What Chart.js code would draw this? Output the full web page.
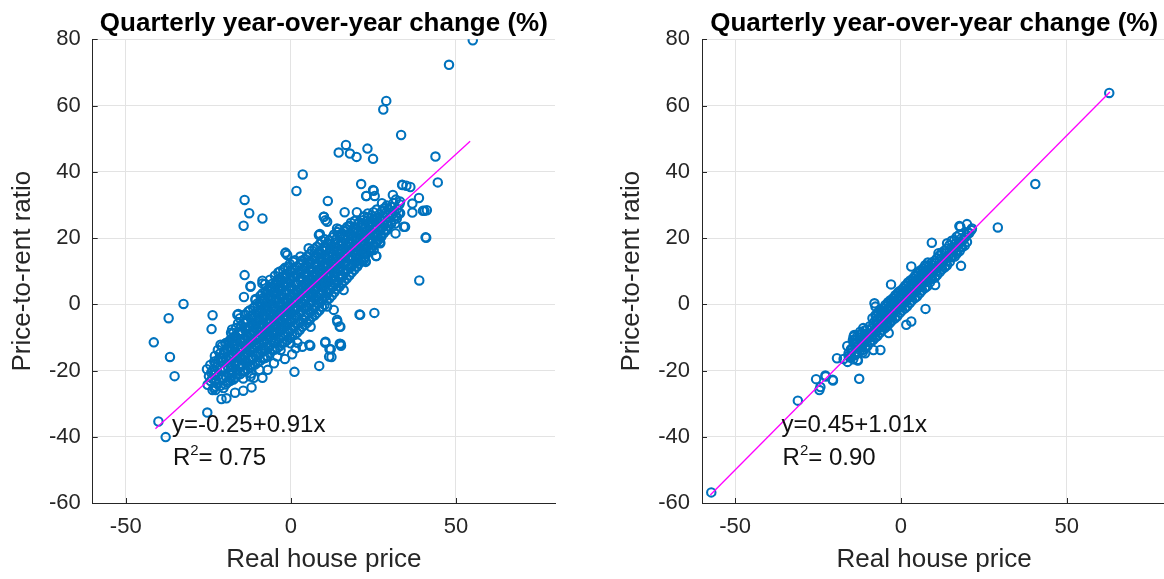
<!DOCTYPE html>
<html>
<head>
<meta charset="utf-8">
<title>Quarterly year-over-year change</title>
<script src="https://cdn.jsdelivr.net/npm/chart.js@4.4.1/dist/chart.umd.min.js"></script>
<style>
  html, body { margin: 0; padding: 0; background: #fff; overflow: hidden; }
  #wrap { position: relative; width: 1164px; height: 579px; overflow: hidden; }
  .panel { position: absolute; top: 0; height: 579px; }
  #leftPanel { left: 0; width: 582px; }
  #rightPanel { left: 582px; width: 600px; }
</style>
</head>
<body>
<div id="wrap">
  <div class="panel" id="leftPanel"><canvas id="scatterLeft"></canvas></div>
  <div class="panel" id="rightPanel"><canvas id="scatterRight"></canvas></div>
</div>
<script>
// tick values and labels
const xTicks = [-50, 0, 50];
const yTicks = [-60, -40, -20, 0, 20, 40, 60, 80];
const titleText = "Quarterly year-over-year change (%)";
const xTitle = "Real house price";
const yTitle = "Price-to-rent ratio";

// left panel: all quarters (real house price %, price-to-rent %)
const leftOutliers = [
  [55.1,79.7],[47.9,72.3],[28.9,61.4],[28.0,58.8],[33.4,51.1],[16.7,48.1],[14.5,45.8],[17.9,45.5],
  [19.9,44.5],[23.2,47.0],[24.9,43.9],[43.8,44.6],[44.5,36.8],[3.6,39.2],[1.7,34.2],[-14.0,31.5],
  [-12.6,27.5],[-8.6,25.9],[-14.3,23.7],[11.2,31.2],[21.3,36.3],[22.8,32.7],[25.1,34.3],[16.3,27.8],
  [20.0,27.8],[30.9,33.0],[33.7,36.1],[35.0,35.8],[36.2,35.4],[38.8,32.1],[36.8,30.4],[36.8,27.7],
  [40.5,28.2],[41.2,28.4],[34.2,23.4],[31.7,21.4],[41.0,20.1],[28.7,22.6],[32.1,25.9],[25.8,14.6],
  [27.0,18.8],[22.6,13.1],[38.9,7.2],[-14.0,8.8],[-8.6,7.1],[-1.6,15.6],[10.0,26.4],[10.5,25.4],
  [8.8,21.2],[-12.2,5.5],[-8.6,6.3],[-14.2,2.2],[-32.5,0.1],[-37.0,-4.2],[-41.5,-11.5],[-36.6,-15.9],
  [-35.2,-21.7],[-23.7,-3.3],[-24.0,-7.5],[-40.1,-35.4],[-37.9,-40.1],[-25.3,-32.7],[-21.0,-28.6],
  [-19.5,-28.4],[-16.9,-26.7],[-14.4,-26.1],[-11.9,-25.1],[-23.7,-25.9],[-22.8,-25.9],[-22.7,-21.1],
  [-20.8,-22.3],[-18.2,-22.3],[-14.4,-22.4],[-12.2,-21.8],[-11.2,-22.2],[-8.6,-22.2],[1.1,-20.4],
  [8.6,-18.6],[10.5,-11.3],[11.7,-13.5],[12.3,-15.9],[14.8,-11.9],[15.2,-12.5],[14.1,-5.3],[14.8,-6.7],
  [20.8,-3.1],[25.3,-2.6],[25.9,14.6],[22.7,12.8],[22.3,15.9],[5.9,-12.5],[3.5,-12.8],[1.5,-13.3],
  [0.4,-15.1],[-1.8,-16.5],[-4.1,-15.8],[-5.1,-17.8],[-21.0,-16.1],[-15.9,-2.9],[-18.9,-11.6],
  [-7.0,-19.8],[-9.5,-19.8],[-12.0,-20.9],[24.9,34.5],[22.9,32.7],[25.4,32.7],[33.8,36.0],[40.0,28.2],
  [40.8,20.2],[34.6,23.4],[21.0,-3.2],[15.1,-12.0],[12.1,-13.6],[11.6,-15.8],[10.4,-11.6],[5.6,-12.2],
  [2.0,-11.6],[-16.2,-3.2],[-17.4,-8.7],[-19.7,-11.8],[-21.0,-16.3],[-23.3,-21.3],[-12.2,5.3]
];
const leftEdge = [
  [-10.7,1.3],[-7.1,3.3],[-4.1,7.3],[-1.6,15.4],[-1.1,14.9],[2.9,14.4],[5.4,16.9],[8.5,20.9],
  [10.0,26.4],[11.0,24.9],[14.0,22.9],[17.1,23.4],[19.0,21.9],[22.1,26.4],[25.1,25.4],[27.6,30.5],
  [30.6,29.4],[33.1,31.0],[-18.2,-18.8],[-12.2,-18.3],[-7.1,-15.8],[-3.1,-13.8],[-0.1,-11.8],
  [6.0,-6.8],[11.0,-0.7],[13.0,-1.7],[14.0,-4.7],[15.0,-6.8],[16.0,4.3],[20.1,11.4],[22.1,13.4],
  [25.1,16.4],[27.1,18.4],[29.1,22.4],[31.6,24.4],[33.1,27.5]
];
const leftCore = [
  [-25.2,-24.3],[-24.8,-21.7],[-25.4,-19.6],
  [-23.3,-25.2],[-23.8,-22.4],[-23.6,-19.8],[-23.2,-17.3],
  [-22.2,-24.1],[-21.8,-21.3],[-22.3,-18.8],[-21.9,-16.7],[-22.1,-13.8],
  [-20.4,-25.3],[-20.7,-22.6],[-20.2,-19.8],[-20.6,-17.4],[-20.3,-14.8],[-20.8,-12.6],
  [-19.2,-23.6],[-18.8,-20.9],[-19.1,-18.7],[-18.9,-15.8],[-19.3,-13.3],[-18.7,-11.2],
  [-17.4,-22.7],[-17.7,-19.8],[-17.3,-17.6],[-17.6,-14.9],[-17.5,-12.3],[-17.2,-10.1],[-17.8,-7.6],
  [-16.1,-21.2],[-15.8,-18.4],[-16.2,-16.1],[-15.9,-13.3],[-16.3,-11.2],[-15.7,-8.4],[-16.0,-5.8],
  [-14.4,-20.3],[-14.7,-18.2],[-14.3,-15.4],[-14.6,-13.1],[-14.4,-10.3],[-14.8,-8.1],[-14.2,-5.6],
  [-13.1,-19.6],[-12.8,-16.8],[-13.2,-14.6],[-12.9,-11.8],[-13.0,-9.6],[-12.7,-6.8],[-13.3,-4.6],[-12.9,-2.2],
  [-11.6,-18.4],[-11.3,-16.2],[-11.7,-13.4],[-11.4,-11.1],[-11.5,-8.3],[-11.2,-6.1],[-11.8,-3.4],[-11.4,-1.2],
  [-10.1,-17.6],[-9.8,-14.8],[-10.2,-12.6],[-9.9,-9.8],[-10.3,-7.6],[-9.7,-4.9],[-10.0,-2.7],[-10.2,0.2],
  [-8.4,-16.4],[-8.7,-14.2],[-8.3,-11.4],[-8.6,-9.2],[-8.5,-6.3],[-8.2,-4.1],[-8.8,-1.6],[-8.4,1.2],[-8.6,3.3],
  [-7.1,-15.6],[-6.8,-12.8],[-7.2,-10.6],[-6.9,-7.8],[-7.0,-5.6],[-6.7,-2.8],[-7.3,-0.6],[-6.9,2.2],[-7.1,4.3],
  [-5.6,-13.8],[-5.3,-11.6],[-5.7,-8.8],[-5.4,-6.6],[-5.5,-3.8],[-5.2,-1.6],[-5.8,1.2],[-5.4,3.4],[-5.6,6.2],
  [-4.1,-13.2],[-3.8,-10.4],[-4.2,-8.2],[-3.9,-5.4],[-4.0,-3.2],[-3.7,-0.4],[-4.3,1.8],[-3.9,4.6],[-4.1,6.8],[-3.8,9.6],
  [-2.6,-11.8],[-2.3,-9.6],[-2.7,-6.8],[-2.4,-4.6],[-2.5,-1.8],[-2.2,0.4],[-2.8,3.2],[-2.4,5.4],[-2.6,8.2],[-2.3,10.4],
  [-1.1,-10.8],[-0.8,-8.6],[-1.2,-5.8],[-0.9,-3.6],[-1.0,-0.8],[-0.7,1.4],[-1.3,4.2],[-0.9,6.4],[-1.1,9.2],[-0.8,11.3],
  [0.4,-9.6],[0.7,-6.8],[0.3,-4.6],[0.6,-1.8],[0.5,0.4],[0.8,3.2],[0.2,5.4],[0.6,8.2],[0.4,10.4],[0.7,12.8],
  [1.9,-8.6],[2.2,-5.8],[1.8,-3.6],[2.1,-0.8],[2.0,1.4],[2.3,4.2],[1.7,6.4],[2.1,9.2],[1.9,11.4],
  [3.4,-6.8],[3.7,-4.6],[3.3,-1.8],[3.6,0.4],[3.5,3.2],[3.8,5.4],[3.2,8.2],[3.6,10.4],[3.4,13.2],
  [4.9,-5.6],[5.2,-2.8],[4.8,-0.6],[5.1,2.2],[5.0,4.4],[5.3,7.2],[4.7,9.4],[5.1,12.2],[4.9,14.4],
  [6.4,-3.8],[6.7,-1.6],[6.3,1.2],[6.6,3.4],[6.5,6.2],[6.8,8.4],[6.2,11.2],[6.6,13.4],[6.4,16.2],
  [7.9,-2.6],[8.2,0.2],[7.8,2.4],[8.1,5.2],[8.0,7.4],[8.3,10.2],[7.7,12.4],[8.1,15.2],[7.9,17.4],
  [9.4,-0.8],[9.7,1.4],[9.3,4.2],[9.6,6.4],[9.5,9.2],[9.8,11.4],[9.2,14.2],[9.6,16.4],[9.4,19.2],
  [10.9,1.2],[11.2,3.4],[10.8,6.2],[11.1,8.4],[11.0,11.2],[11.3,13.4],[10.7,16.2],[11.1,18.4],
  [12.4,2.6],[12.7,5.2],[12.3,7.4],[12.6,10.2],[12.5,12.4],[12.8,15.2],[12.2,17.4],[12.6,20.2],
  [13.9,4.6],[14.2,6.8],[13.8,9.6],[14.1,11.8],[14.0,14.6],[14.3,16.8],[13.7,19.6],[14.1,21.8],
  [15.4,6.2],[15.7,8.4],[15.3,11.2],[15.6,13.4],[15.5,16.2],[15.8,18.4],[15.2,21.2],
  [16.9,7.8],[17.2,10.6],[16.8,12.8],[17.1,15.6],[17.0,17.8],[17.3,20.6],[16.7,22.8],
  [18.4,9.6],[18.7,11.8],[18.3,14.6],[18.6,16.8],[18.5,19.6],[18.8,21.8],[18.2,24.6],
  [19.9,11.4],[20.2,14.2],[19.8,16.4],[20.1,19.2],[20.0,21.4],[20.3,24.2],
  [21.4,13.2],[21.7,15.4],[21.3,18.2],[21.6,20.4],[21.5,23.2],[21.8,25.4],
  [22.9,15.2],[23.2,17.4],[22.8,20.2],[23.1,22.4],[23.0,25.2],[23.3,27.4],
  [24.4,16.8],[24.7,19.6],[24.3,21.8],[24.6,24.6],[24.5,26.8],
  [25.9,18.6],[26.2,20.8],[25.8,23.6],[26.1,25.8],[26.0,28.6],
  [27.4,20.4],[27.7,23.2],[27.3,25.4],[27.6,28.2],
  [28.9,22.6],[29.2,24.8],[28.8,27.6],[29.1,29.8],
  [30.4,24.4],[30.7,27.2],[30.3,29.4],
  [31.9,26.6],[32.2,28.8],[31.8,31.6]
];
const leftCoreInner = [
  [-24.3,-23.2],[-24.1,-20.6],[-24.4,-18.3],
  [-22.8,-24.8],[-22.6,-22.9],[-22.9,-20.3],[-22.7,-17.9],[-23.0,-15.6],
  [-21.3,-24.6],[-21.1,-22.2],[-21.4,-19.7],[-21.2,-17.1],[-21.5,-14.9],[-21.3,-12.2],
  [-19.8,-24.2],[-19.6,-21.8],[-19.9,-19.3],[-19.7,-16.8],[-20.0,-14.2],[-19.8,-11.8],
  [-18.3,-23.1],[-18.1,-20.6],[-18.4,-18.2],[-18.2,-15.6],[-18.5,-13.1],[-18.3,-10.7],[-18.1,-8.6],
  [-16.8,-22.1],[-16.6,-19.6],[-16.9,-17.2],[-16.7,-14.6],[-17.0,-12.2],[-16.8,-9.6],[-16.6,-7.2],
  [-15.3,-21.1],[-15.1,-18.7],[-15.4,-16.2],[-15.2,-13.8],[-15.5,-11.2],[-15.3,-8.8],[-15.1,-6.3],[-15.4,-4.2],
  [-13.8,-20.2],[-13.6,-17.8],[-13.9,-15.3],[-13.7,-12.7],[-14.0,-10.3],[-13.8,-7.8],[-13.6,-5.3],[-13.9,-3.1],
  [-12.3,-19.2],[-12.1,-16.7],[-12.4,-14.3],[-12.2,-11.7],[-12.5,-9.2],[-12.3,-6.8],[-12.1,-4.3],[-12.4,-1.8],
  [-10.8,-18.2],[-10.6,-15.6],[-10.9,-13.2],[-10.7,-10.7],[-11.0,-8.2],[-10.8,-5.8],[-10.6,-3.3],[-10.9,-0.7],[-10.7,1.6],
  [-9.3,-17.1],[-9.1,-14.7],[-9.4,-12.2],[-9.2,-9.8],[-9.5,-7.2],[-9.3,-4.7],[-9.1,-2.2],[-9.4,0.3],[-9.2,2.6],
  [-7.8,-16.2],[-7.6,-13.7],[-7.9,-11.2],[-7.7,-8.6],[-8.0,-6.2],[-7.8,-3.7],[-7.6,-1.2],[-7.9,1.3],[-7.7,3.8],[-7.8,6.1],
  [-6.3,-14.8],[-6.1,-12.3],[-6.4,-9.8],[-6.2,-7.3],[-6.5,-4.8],[-6.3,-2.3],[-6.1,0.2],[-6.4,2.7],[-6.2,5.2],[-6.3,7.4],
  [-4.8,-13.7],[-4.6,-11.2],[-4.9,-8.7],[-4.7,-6.2],[-5.0,-3.7],[-4.8,-1.2],[-4.6,1.3],[-4.9,3.8],[-4.7,6.3],[-4.8,8.6],
  [-3.3,-12.6],[-3.1,-10.1],[-3.4,-7.6],[-3.2,-5.1],[-3.5,-2.6],[-3.3,-0.1],[-3.1,2.4],[-3.4,4.9],[-3.2,7.4],[-3.3,9.9],
  [-1.8,-11.5],[-1.6,-9.0],[-1.9,-6.5],[-1.7,-4.0],[-2.0,-1.5],[-1.8,1.0],[-1.6,3.5],[-1.9,6.0],[-1.7,8.5],[-1.8,11.0],
  [-0.3,-10.2],[-0.1,-7.7],[-0.4,-5.2],[-0.2,-2.7],[-0.5,-0.2],[-0.3,2.3],[-0.1,4.8],[-0.4,7.3],[-0.2,9.8],[-0.3,12.2],
  [1.2,-9.1],[1.4,-6.6],[1.1,-4.1],[1.3,-1.6],[1.0,0.9],[1.2,3.4],[1.4,5.9],[1.1,8.4],[1.3,10.9],[1.2,13.3],
  [2.7,-7.8],[2.9,-5.3],[2.6,-2.8],[2.8,-0.3],[2.5,2.2],[2.7,4.7],[2.9,7.2],[2.6,9.7],[2.8,12.2],
  [4.2,-6.3],[4.4,-3.8],[4.1,-1.3],[4.3,1.2],[4.0,3.7],[4.2,6.2],[4.4,8.7],[4.1,11.2],[4.3,13.7],
  [5.7,-4.8],[5.9,-2.3],[5.6,0.2],[5.8,2.7],[5.5,5.2],[5.7,7.7],[5.9,10.2],[5.6,12.7],[5.8,15.2],
  [7.2,-3.3],[7.4,-0.8],[7.1,1.7],[7.3,4.2],[7.0,6.7],[7.2,9.2],[7.4,11.7],[7.1,14.2],[7.3,16.7],
  [8.7,-1.8],[8.9,0.7],[8.6,3.2],[8.8,5.7],[8.5,8.2],[8.7,10.7],[8.9,13.2],[8.6,15.7],[8.8,18.2],
  [10.2,-0.2],[10.4,2.3],[10.1,4.8],[10.3,7.3],[10.0,9.8],[10.2,12.3],[10.4,14.8],[10.1,17.3],[10.3,19.6],
  [11.7,1.8],[11.9,4.3],[11.6,6.8],[11.8,9.3],[11.5,11.8],[11.7,14.3],[11.9,16.8],[11.6,19.3],
  [13.2,3.6],[13.4,6.1],[13.1,8.6],[13.3,11.1],[13.0,13.6],[13.2,16.1],[13.4,18.6],[13.1,21.1],
  [14.7,5.3],[14.9,7.8],[14.6,10.3],[14.8,12.8],[14.5,15.3],[14.7,17.8],[14.9,20.3],[14.6,22.6],
  [16.2,7.1],[16.4,9.6],[16.1,12.1],[16.3,14.6],[16.0,17.1],[16.2,19.6],[16.4,22.1],
  [17.7,8.7],[17.9,11.2],[17.6,13.7],[17.8,16.2],[17.5,18.7],[17.7,21.2],[17.9,23.7],
  [19.2,10.4],[19.4,12.9],[19.1,15.4],[19.3,17.9],[19.0,20.4],[19.2,22.9],[19.4,25.2],
  [20.7,12.3],[20.9,14.8],[20.6,17.3],[20.8,19.8],[20.5,22.3],[20.7,24.8],
  [22.2,14.1],[22.4,16.6],[22.1,19.1],[22.3,21.6],[22.0,24.1],[22.2,26.6],
  [23.7,16.2],[23.9,18.7],[23.6,21.2],[23.8,23.7],[23.5,26.2],
  [25.2,17.8],[25.4,20.3],[25.1,22.8],[25.3,25.3],[25.0,27.8],
  [26.7,19.6],[26.9,22.1],[26.6,24.6],[26.8,27.1],
  [28.2,21.5],[28.4,24.0],[28.1,26.5],[28.3,29.0],
  [29.7,23.6],[29.9,26.1],[29.6,28.6],
  [31.2,25.6],[31.4,28.1],[31.1,30.6],
  [32.7,27.6],[32.9,30.2]
];
const leftCoreDense = [
  [-17.9,-21.4],[-17.8,-18.9],[-18.0,-16.4],[-17.9,-13.9],[-17.8,-11.4],
  [-16.4,-20.1],[-16.5,-17.6],[-16.3,-15.1],[-16.4,-12.6],[-16.5,-10.1],
  [-14.9,-18.8],[-14.8,-16.3],[-15.0,-13.8],[-14.9,-11.3],[-14.8,-8.8],[-15.0,-6.6],
  [-13.4,-17.4],[-13.5,-14.9],[-13.3,-12.4],[-13.4,-9.9],[-13.5,-7.4],[-13.3,-4.9],
  [-11.9,-16.1],[-11.8,-13.6],[-12.0,-11.1],[-11.9,-8.6],[-11.8,-6.1],[-12.0,-3.6],
  [-10.4,-14.7],[-10.5,-12.2],[-10.3,-9.7],[-10.4,-7.2],[-10.5,-4.7],[-10.3,-2.2],
  [-8.9,-13.4],[-8.8,-10.9],[-9.0,-8.4],[-8.9,-5.9],[-8.8,-3.4],[-9.0,-0.9],[-8.9,1.6],
  [-7.4,-12.0],[-7.5,-9.5],[-7.3,-7.0],[-7.4,-4.5],[-7.5,-2.0],[-7.3,0.5],[-7.4,3.0],
  [-5.9,-10.6],[-5.8,-8.1],[-6.0,-5.6],[-5.9,-3.1],[-5.8,-0.6],[-6.0,1.9],[-5.9,4.4],
  [-4.4,-9.3],[-4.5,-6.8],[-4.3,-4.3],[-4.4,-1.8],[-4.5,0.7],[-4.3,3.2],[-4.4,5.7],
  [-2.9,-7.9],[-2.8,-5.4],[-3.0,-2.9],[-2.9,-0.4],[-2.8,2.1],[-3.0,4.6],[-2.9,7.1],
  [-1.4,-6.5],[-1.5,-4.0],[-1.3,-1.5],[-1.4,1.0],[-1.5,3.5],[-1.3,6.0],[-1.4,8.5],
  [0.1,-5.2],[0.2,-2.7],[0.0,-0.2],[0.1,2.3],[0.2,4.8],[0.0,7.3],[0.1,9.8],
  [1.6,-3.8],[1.5,-1.3],[1.7,1.2],[1.6,3.7],[1.5,6.2],[1.7,8.7],
  [3.1,-2.4],[3.2,0.1],[3.0,2.6],[3.1,5.1],[3.2,7.6],[3.0,10.1],
  [4.6,-1.1],[4.5,1.4],[4.7,3.9],[4.6,6.4],[4.5,8.9],[4.7,11.4],
  [6.1,0.3],[6.2,2.8],[6.0,5.3],[6.1,7.8],[6.2,10.3],[6.0,12.8],
  [7.6,1.7],[7.5,4.2],[7.7,6.7],[7.6,9.2],[7.5,11.7],[7.7,14.2],
  [9.1,3.0],[9.2,5.5],[9.0,8.0],[9.1,10.5],[9.2,13.0],[9.0,15.5],
  [10.6,4.4],[10.5,6.9],[10.7,9.4],[10.6,11.9],[10.5,14.4],[10.7,16.9],
  [12.1,5.8],[12.2,8.3],[12.0,10.8],[12.1,13.3],[12.2,15.8],[12.0,18.3],
  [13.6,7.1],[13.5,9.6],[13.7,12.1],[13.6,14.6],[13.5,17.1],[13.7,19.6],
  [15.1,8.5],[15.2,11.0],[15.0,13.5],[15.1,16.0],[15.2,18.5],[15.0,21.0],
  [16.6,9.9],[16.5,12.4],[16.7,14.9],[16.6,17.4],[16.5,19.9],
  [18.1,11.2],[18.2,13.7],[18.0,16.2],[18.1,18.7],[18.2,21.2],
  [19.6,12.6],[19.5,15.1],[19.7,17.6],[19.6,20.1],[19.5,22.6],
  [21.1,14.0],[21.2,16.5],[21.0,19.0],[21.1,21.5],[21.2,24.0],
  [22.6,15.3],[22.5,17.8],[22.7,20.3],[22.6,22.8],
  [24.1,17.2],[24.2,19.7],[24.0,22.2],[24.1,24.7],
  [25.6,18.5],[25.5,21.0],[25.7,23.5],[25.6,26.0],
  [27.1,20.4],[27.2,22.9],[27.0,25.4]
];
const leftFit = [[-41.0,-37.6],[54.3,49.2]];
const leftEquation = "y=-0.25+0.91x";
const leftR2 = "0.75";

// right panel
const rightOutliers = [
  [62.8,63.8],[40.5,36.3],[29.2,23.2],[17.9,23.4],[19.9,24.2],[20.6,21.5],[21.2,22.4],[9.3,18.6],
  [18.1,11.6],[3.1,11.4],[-57.2,-56.8],[-31.1,-29.1],[-25.6,-22.6],[-22.7,-21.8],[-20.6,-22.8],
  [-24.6,-25.9],[-24.3,-25.0],[-12.6,-22.5],[-19.3,-16.3],[-17.3,-16.5],[-15.3,-15.8],[-13.1,-16.8],
  [-14.5,-10.8],[-14.1,-9.3],[7.4,-1.4],[3.1,-5.2],[1.6,-6.2],[-3.0,6.0],[-8.0,0.3],[-7.7,-0.7],
  [-6.2,-13.8],[-8.3,-13.8],[-11.5,-14.5],[17.6,23.6],[21.4,22.9],[10.3,5.8],[-14.3,-9.8],
  [-13.3,-11.3],[-12.3,-8.3],[-15.8,-15.6],[-13.0,-17.0],[-10.8,-14.8],[-3.7,-8.7],[-4.2,-5.7],
  [13.9,18.4],[11.3,15.4],[16.9,15.4],[-22.8,-21.5],[-20.5,-23.0]
];
const rightCore = [
  [-16.1,-17.4],[-15.8,-14.8],[-16.2,-12.6],
  [-14.4,-16.6],[-14.7,-13.8],[-14.3,-11.6],
  [-13.1,-14.8],[-12.8,-12.6],[-13.2,-9.8],
  [-11.6,-13.8],[-11.3,-11.6],[-11.7,-8.8],[-11.4,-7.2],
  [-10.1,-12.6],[-9.8,-9.8],[-10.2,-7.6],
  [-8.4,-10.8],[-8.7,-8.6],[-8.3,-5.8],[-8.6,-4.2],
  [-7.1,-9.6],[-6.8,-6.8],[-7.2,-4.6],[-6.9,-2.4],
  [-5.6,-7.8],[-5.3,-5.6],[-5.7,-2.8],[-5.4,-1.2],
  [-4.1,-6.6],[-3.8,-3.8],[-4.2,-1.6],[-3.9,0.6],
  [-2.6,-4.8],[-2.3,-2.6],[-2.7,0.2],[-2.4,1.8],
  [-1.1,-3.6],[-0.8,-0.8],[-1.2,1.4],[-0.9,3.6],
  [0.4,-1.8],[0.7,0.4],[0.3,3.2],[0.6,4.8],
  [1.9,-0.6],[2.2,2.2],[1.8,4.4],[2.1,6.6],
  [3.4,1.2],[3.7,3.4],[3.3,6.2],[3.6,7.8],
  [4.9,2.4],[5.2,5.2],[4.8,7.4],[5.1,9.6],
  [6.4,4.2],[6.7,6.4],[6.3,9.2],[6.6,10.8],
  [7.9,5.4],[8.2,8.2],[7.8,10.4],[8.1,12.6],
  [9.4,7.6],[9.7,9.8],[9.3,12.6],
  [10.9,8.8],[11.2,11.6],[10.8,13.8],
  [12.4,10.6],[12.7,12.8],[12.3,15.6],
  [13.9,11.8],[14.2,14.6],[13.8,16.8],
  [15.4,14.2],[15.7,16.4],[15.3,19.2],
  [16.9,15.4],[17.2,18.2],[16.8,20.4],
  [18.4,17.2],[18.7,19.4],
  [19.9,18.8],[20.2,21.6]
];
const rightCoreInner = [
  [-15.3,-16.1],[-15.1,-13.6],
  [-13.8,-15.3],[-13.6,-12.8],[-13.9,-10.6],
  [-12.3,-13.9],[-12.1,-11.4],[-12.4,-9.1],
  [-10.8,-12.8],[-10.6,-10.3],[-10.9,-7.9],
  [-9.3,-11.4],[-9.1,-8.9],[-9.4,-6.6],
  [-7.8,-10.1],[-7.6,-7.6],[-7.9,-5.1],[-7.7,-3.3],
  [-6.3,-8.6],[-6.1,-6.1],[-6.4,-3.6],[-6.2,-1.8],
  [-4.8,-7.2],[-4.6,-4.7],[-4.9,-2.2],[-4.7,-0.2],
  [-3.3,-5.6],[-3.1,-3.1],[-3.4,-0.6],[-3.2,1.2],
  [-1.8,-4.2],[-1.6,-1.7],[-1.9,0.8],[-1.7,2.7],
  [-0.3,-2.6],[-0.1,-0.1],[-0.4,2.4],[-0.2,4.1],
  [1.2,-1.2],[1.4,1.3],[1.1,3.8],[1.3,5.7],
  [2.7,0.4],[2.9,2.9],[2.6,5.4],[2.8,7.2],
  [4.2,1.9],[4.4,4.4],[4.1,6.9],[4.3,8.7],
  [5.7,3.4],[5.9,5.9],[5.6,8.4],[5.8,10.2],
  [7.2,4.9],[7.4,7.4],[7.1,9.9],[7.3,11.8],
  [8.7,6.6],[8.9,9.1],[8.6,11.6],
  [10.2,8.1],[10.4,10.6],[10.1,13.1],
  [11.7,9.7],[11.9,12.2],[11.6,14.7],
  [13.2,11.2],[13.4,13.7],[13.1,16.2],
  [14.7,12.8],[14.9,15.3],[14.6,17.8],
  [16.2,14.4],[16.4,16.9],[16.1,19.4],
  [17.7,16.1],[17.9,18.6],[17.6,21.0],
  [19.2,17.7],[19.4,20.2]
];
const rightCoreDense = [
  [-14.9,-15.9],[-14.8,-13.4],
  [-13.4,-14.4],[-13.5,-11.9],
  [-11.9,-12.9],[-11.8,-10.4],
  [-10.4,-11.4],[-10.5,-8.9],
  [-8.9,-9.8],[-8.8,-7.3],
  [-7.4,-8.3],[-7.5,-5.8],[-7.3,-3.6],
  [-5.9,-6.8],[-5.8,-4.3],[-6.0,-2.1],
  [-4.4,-5.3],[-4.5,-2.8],[-4.3,-0.6],
  [-2.9,-3.8],[-2.8,-1.3],[-3.0,0.9],
  [-1.4,-2.3],[-1.5,0.2],[-1.3,2.4],
  [0.1,-0.7],[0.2,1.8],[0.0,4.0],
  [1.6,0.8],[1.5,3.3],[1.7,5.5],
  [3.1,2.3],[3.2,4.8],[3.0,7.0],
  [4.6,3.8],[4.5,6.3],[4.7,8.5],
  [6.1,5.3],[6.2,7.8],[6.0,10.0],
  [7.6,6.8],[7.5,9.3],[7.7,11.5],
  [9.1,8.3],[9.0,10.8],
  [10.6,9.9],[10.5,12.4],
  [12.1,11.4],[12.2,13.9],
  [13.6,12.9],[13.5,15.4],
  [15.1,14.4],[15.2,16.9],
  [16.6,15.9],[16.5,18.4],
  [18.1,17.4],[18.2,19.9]
];
const rightFit = [[-57.5,-57.6],[63.0,64.1]];
const rightEquation = "y=0.45+1.01x";
const rightR2 = "0.90";

const FONT = "'Liberation Sans', Arial, Helvetica, sans-serif";
const INK = "#262626";

const toXY = arr => arr.map(p => ({x: p[0], y: p[1]}));

// MATLAB style: inward ticks, centred bold title, regression text
const matlabDecor = {
  id: 'matlabDecor',
  afterDraw(chart, args, opts) {
    const ctx = chart.ctx;
    const xs = chart.scales.x, ys = chart.scales.y;
    const area = chart.chartArea;
    ctx.save();
    ctx.strokeStyle = INK;
    ctx.lineWidth = 1;
    ctx.beginPath();
    xTicks.forEach(v => {
      const px = Math.round(xs.getPixelForValue(v)) + 0.5;
      ctx.moveTo(px, area.bottom);
      ctx.lineTo(px, area.bottom - 5);
    });
    yTicks.forEach(v => {
      const py = Math.round(ys.getPixelForValue(v)) + 0.5;
      ctx.moveTo(area.left, py);
      ctx.lineTo(area.left + 5, py);
    });
    ctx.stroke();

    ctx.fillStyle = '#000';
    ctx.font = "bold 26px " + FONT;
    ctx.textAlign = 'center';
    ctx.textBaseline = 'alphabetic';
    ctx.fillText(titleText, (area.left + area.right) / 2, 31);

    ctx.textAlign = 'left';
    ctx.fillStyle = '#111';
    ctx.font = "24px " + FONT;
    const ex = xs.getPixelForValue(opts.eqAt[0]);
    const ey = ys.getPixelForValue(opts.eqAt[1]);
    ctx.fillText(opts.equation, ex, ey);
    const rx = xs.getPixelForValue(opts.r2At[0]);
    const ry = ys.getPixelForValue(opts.r2At[1]);
    ctx.fillText("R", rx, ry);
    let w = ctx.measureText("R").width;
    ctx.font = "15px " + FONT;
    ctx.fillText("2", rx + w, ry - 10);
    w += ctx.measureText("2").width;
    ctx.font = "24px " + FONT;
    ctx.fillText("= " + opts.r2, rx + w, ry);
    ctx.restore();
  }
};

function makePanel(canvasId, points, fit, equation, r2, yWidth, yTitlePad, padRight) {
  return new Chart(document.getElementById(canvasId), {
    type: 'scatter',
    data: {
      datasets: [
        {
          type: 'line',
          data: toXY(fit),
          borderColor: '#FF00FF',
          borderWidth: 1.3,
          pointRadius: 0,
          fill: false,
          order: 0
        },
        {
          data: toXY(points),
          pointStyle: 'circle',
          pointRadius: 4.2,
          borderWidth: 2.1,
          borderColor: '#0072BD',
          backgroundColor: 'rgba(0,0,0,0)',
          order: 1
        }
      ]
    },
    options: {
      responsive: true,
      maintainAspectRatio: false,
      animation: false,
      layout: { padding: { left: 0, right: padRight, top: 39.3, bottom: 0 } },
      plugins: {
        legend: { display: false },
        tooltip: { enabled: false },
        matlabDecor: {
          equation: equation,
          r2: r2,
          eqAt: [-36.0, -38.5],
          r2At: [-35.7, -48.5]
        }
      },
      scales: {
        x: {
          type: 'linear',
          min: -60,
          max: 80,
          afterBuildTicks: s => { s.ticks = xTicks.map(v => ({value: v})); },
          afterFit: s => { s.height = 76; },
          grid: { color: '#e3e3e3', lineWidth: 1, drawTicks: false },
          border: { color: INK, width: 1 },
          ticks: { padding: 11, color: INK, font: { family: FONT, size: 22 } },
          title: {
            display: true, text: xTitle, color: INK,
            font: { family: FONT, size: 26 },
            padding: { top: 0, bottom: 3.4 }
          }
        },
        y: {
          type: 'linear',
          min: -60,
          max: 80,
          afterBuildTicks: s => { s.ticks = yTicks.map(v => ({value: v})); },
          afterFit: s => { s.width = yWidth; },
          grid: { color: '#e3e3e3', lineWidth: 1, drawTicks: false },
          border: { color: INK, width: 1 },
          ticks: { padding: 12, color: INK, font: { family: FONT, size: 22 } },
          title: {
            display: true, text: yTitle, color: INK,
            font: { family: FONT, size: 26 },
            padding: { top: yTitlePad, bottom: 0 }
          }
        }
      }
    },
    plugins: [matlabDecor]
  });
}

const leftPoints = leftCore.concat(leftCoreInner, leftCoreDense, leftEdge, leftOutliers);
const rightPoints = rightCore.concat(rightCoreInner, rightCoreDense, rightOutliers);

makePanel('scatterLeft', leftPoints, leftFit, leftEquation, leftR2, 92.7, 6.9, 27);
makePanel('scatterRight', rightPoints, rightFit, rightEquation, rightR2, 120, 34.4, 15.7);
</script>
</body>
</html>
